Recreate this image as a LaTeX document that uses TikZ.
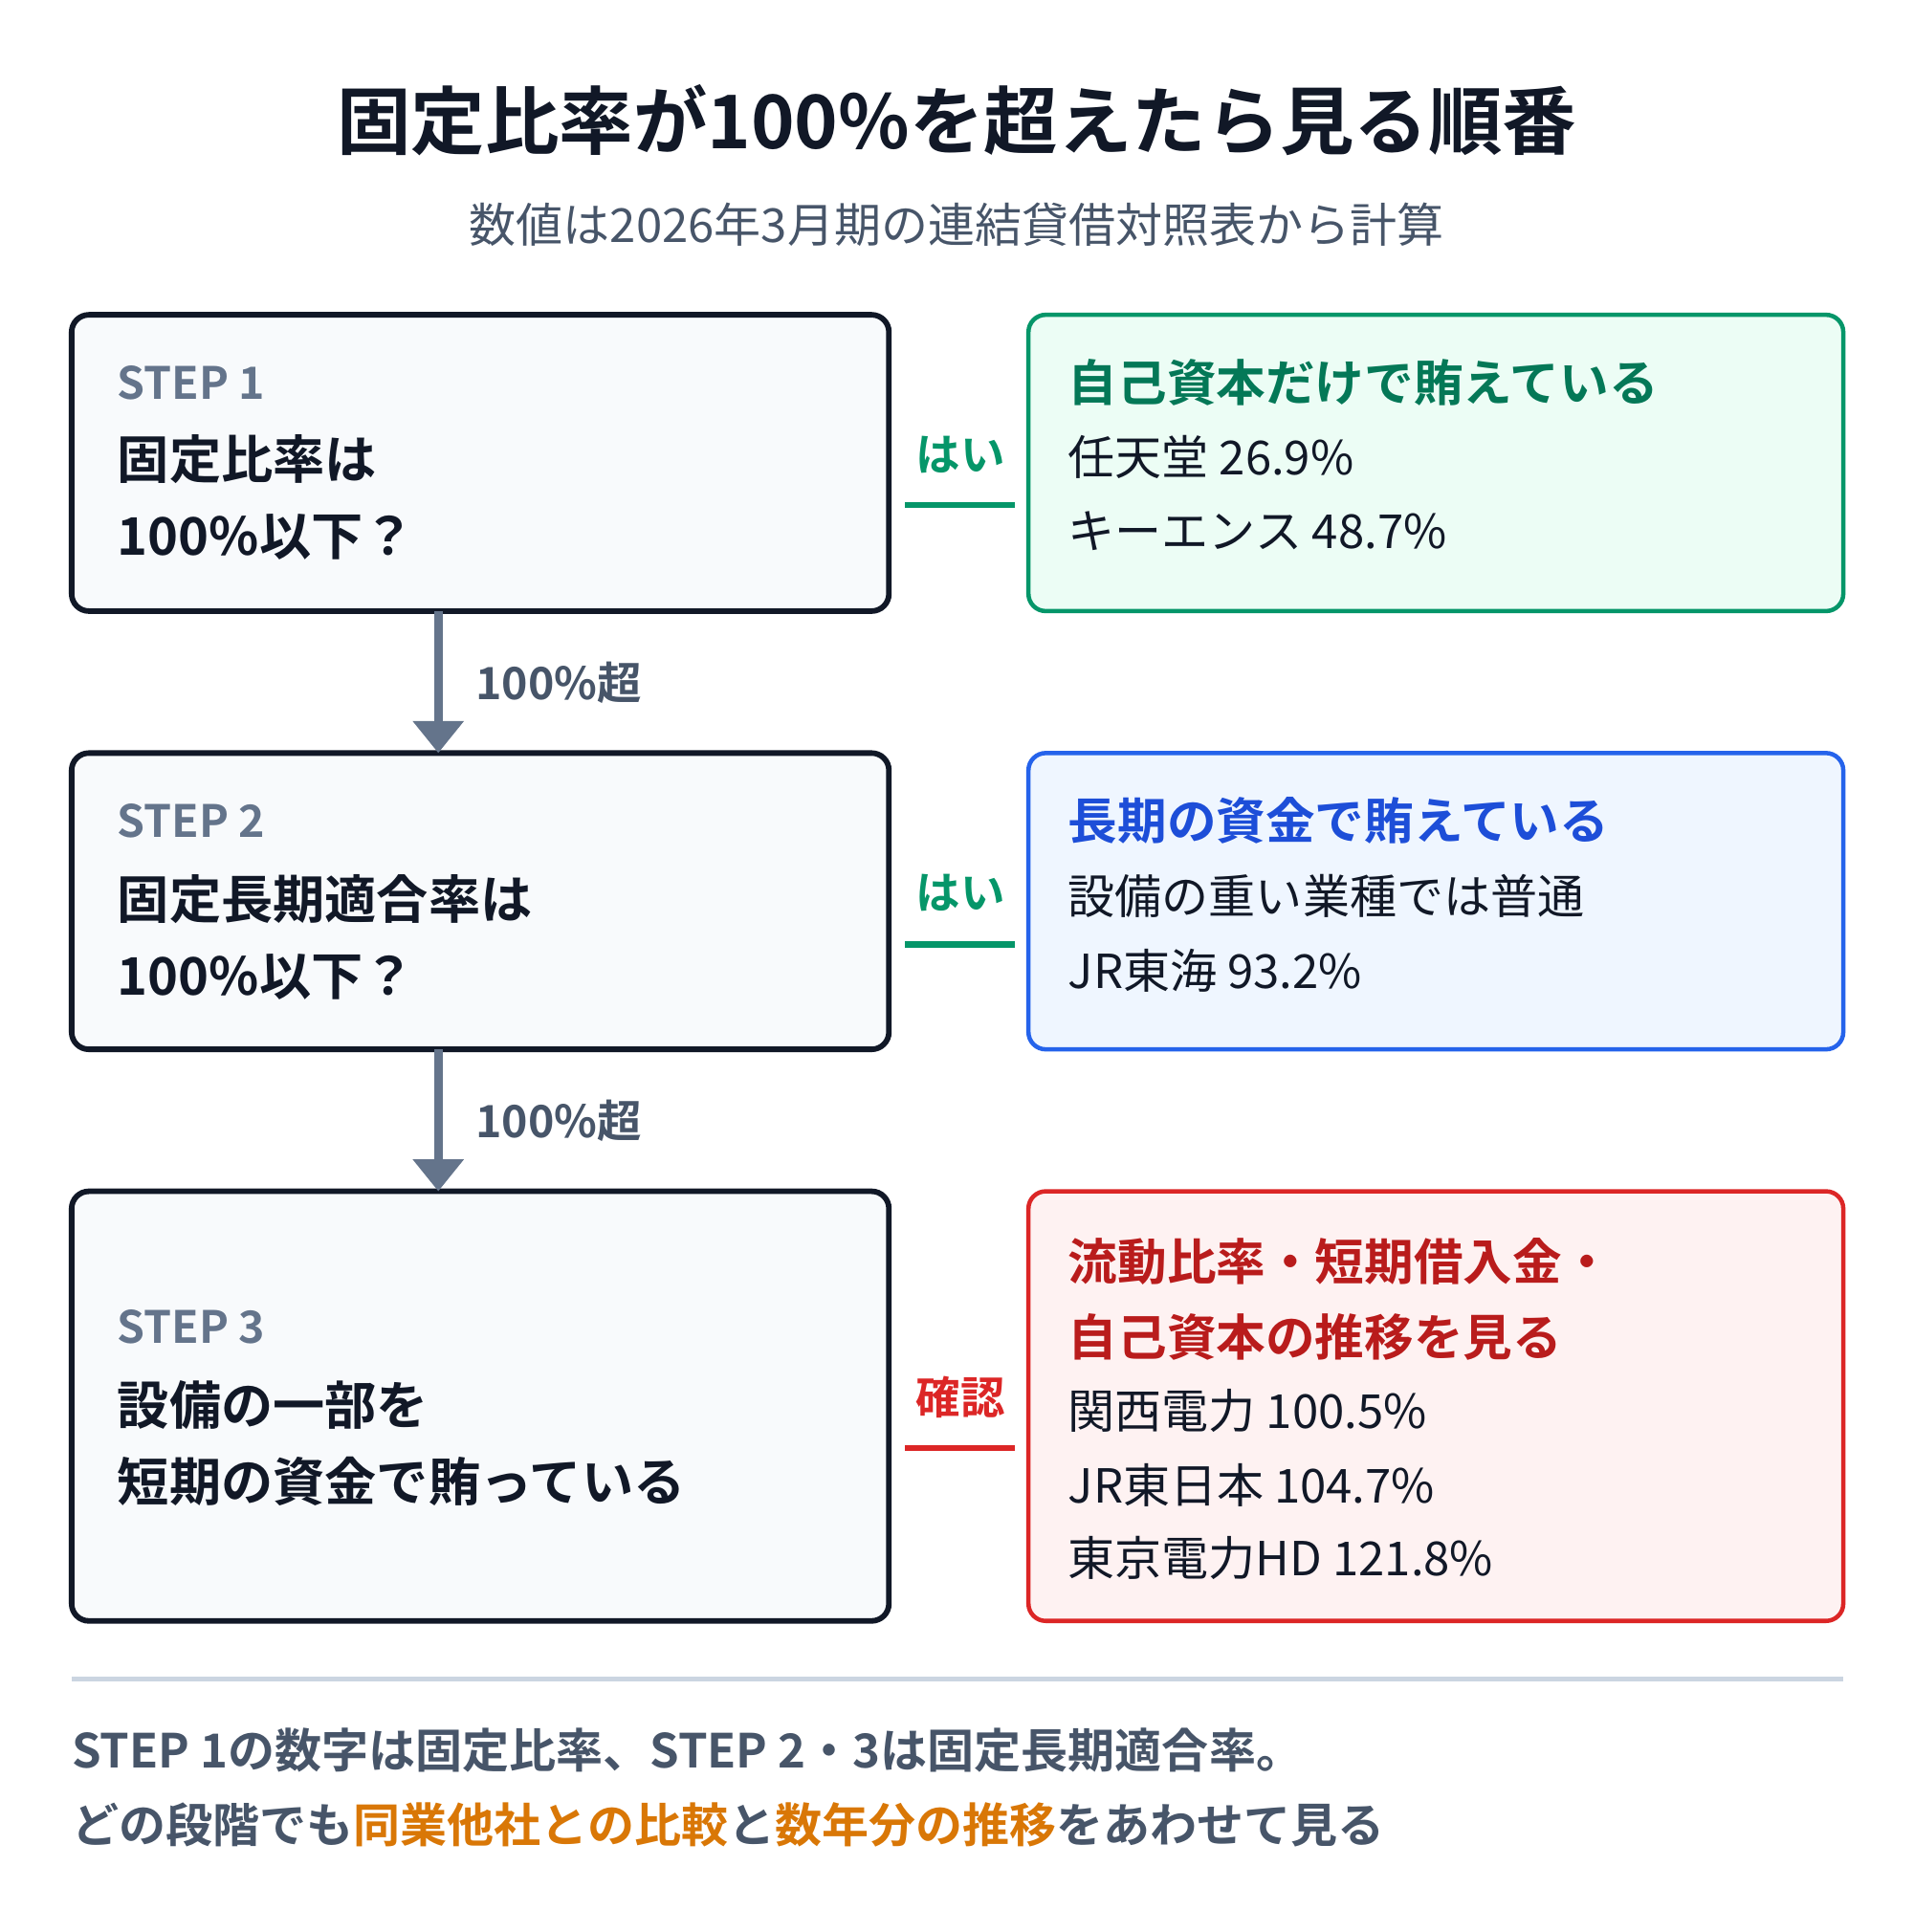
\documentclass[tikz,border=0pt]{standalone}
\usepackage{fontspec}
\setmainfont{Noto Sans CJK JP}[BoldFont={* Bold}]
\usetikzlibrary{arrows.meta}
\definecolor{ink}{HTML}{111827}
\definecolor{slate}{HTML}{64748B}
\definecolor{slated}{HTML}{475569}
\definecolor{gr}{HTML}{059669}
\definecolor{grt}{HTML}{047857}
\definecolor{grf}{HTML}{ECFDF5}
\definecolor{bl}{HTML}{2563EB}
\definecolor{blt}{HTML}{1D4ED8}
\definecolor{blf}{HTML}{EFF6FF}
\definecolor{rd}{HTML}{DC2626}
\definecolor{rdt}{HTML}{B91C1C}
\definecolor{rdf}{HTML}{FEF2F2}
\definecolor{orng}{HTML}{D97706}
\definecolor{boxf}{HTML}{F8FAFC}
\definecolor{sep}{HTML}{CBD5E1}
\newcommand{\fs}[1]{\fontsize{#1}{#1}\selectfont}
\begin{document}
\begin{tikzpicture}[x=1pt,y=-1pt,
 box/.style={draw=ink,line width=4.5pt,fill=boxf,rounded corners=14pt},
 rbox/.style={line width=3.5pt,rounded corners=14pt},
 t/.style={anchor=west,inner sep=0pt},
 steplab/.style={t,text=slate,font=\fs{36}\bfseries},
 q/.style={t,text=ink,font=\fs{42}\bfseries},
 rh/.style={t,font=\fs{40}\bfseries},
 rl/.style={t,text=ink,font=\fs{38}},
 yes/.style={inner sep=0pt,font=\fs{36}\bfseries},
 arr/.style={draw=slate,line width=7pt,-{Triangle[length=26pt,width=40pt]}},
 lbl/.style={t,text=slated,font=\fs{36}\bfseries}]
\useasboundingbox[fill=white] (0,0) rectangle (1550,1565);
\node[text=ink,font=\fs{60}\bfseries,inner sep=0pt] (title) at (775,97) {固定比率が100\%を超えたら見る順番};
\node[text=slated,font=\fs{38},inner sep=0pt] (sub) at (775,182) {数値は2026年3月期の連結貸借対照表から計算};
\path[box] (58,255) rectangle (720,495); \coordinate (b1t) at (355,495);
\path[box] (58,610) rectangle (720,850); \coordinate (b2b) at (355,610); \coordinate (b2t) at (355,850);
\path[box] (58,965) rectangle (720,1313); \coordinate (b3b) at (355,965);
\node[steplab] (s1) at (95,310) {STEP 1};
\node[q] (q1a) at (95,372) {固定比率は};
\node[q] (q1b) at (95,435) {100\%以下？};
\node[steplab] (s2) at (95,665) {STEP 2};
\node[q] (q2a) at (95,728) {固定長期適合率は};
\node[q] (q2b) at (95,791) {100\%以下？};
\node[steplab] (s3) at (95,1075) {STEP 3};
\node[q] (q3a) at (95,1138) {設備の一部を};
\node[q] (q3b) at (95,1200) {短期の資金で賄っている};
\draw[arr] (b1t) -- (b2b);
\draw[arr] (b2t) -- (b3b);
\node[lbl] (l1) at (385,553) {100\%超};
\node[lbl] (l2) at (385,908) {100\%超};
\path[rbox,draw=gr,fill=grf] (833,255) rectangle (1493,495);
\path[rbox,draw=bl,fill=blf] (833,610) rectangle (1493,850);
\path[rbox,draw=rd,fill=rdf] (833,965) rectangle (1493,1313);
\node[rh,text=grt] (g0) at (865,310) {自己資本だけで賄えている};
\node[rl] (g1) at (865,370) {任天堂 26.9\%};
\node[rl] (g2) at (865,430) {キーエンス 48.7\%};
\node[rh,text=blt] (c0) at (865,665) {長期の資金で賄えている};
\node[rl] (c1) at (865,726) {設備の重い業種では普通};
\node[rl] (c2) at (865,786) {JR東海 93.2\%};
\node[rh,text=rdt] (r0) at (865,1022) {流動比率・短期借入金・};
\node[rh,text=rdt] (r1) at (865,1083) {自己資本の推移を見る};
\node[rl] (r2) at (865,1143) {関西電力 100.5\%};
\node[rl] (r3) at (865,1203) {JR東日本 104.7\%};
\node[rl] (r4) at (865,1262) {東京電力HD 121.8\%};
\node[yes,text=gr] (y1) at (778,368) {はい};
\coordinate (y1a) at (733,409); \coordinate (y1b) at (822,409);
\draw[gr,line width=5pt] (y1a) -- (y1b);
\node[yes,text=gr] (y2) at (778,723) {はい};
\coordinate (y2a) at (733,765); \coordinate (y2b) at (822,765);
\draw[gr,line width=5pt] (y2a) -- (y2b);
\node[yes,text=rd] (y3) at (778,1132) {確認};
\coordinate (y3a) at (733,1173); \coordinate (y3b) at (822,1173);
\draw[rd,line width=5pt] (y3a) -- (y3b);
\coordinate (sa) at (58,1360); \coordinate (sb) at (1493,1360);
\draw[sep,line width=4pt] (sa) -- (sb);
\node[t,text=slated,font=\fs{38}\bfseries] (f1) at (58,1418) {STEP 1の数字は固定比率、STEP 2・3は固定長期適合率。};
\node[t,text=slated,font=\fs{38}\bfseries] (f2) at (58,1478) {どの段階でも\textcolor{orng}{同業他社との比較}と\textcolor{orng}{数年分の推移}をあわせて見る};
\end{tikzpicture}
\end{document}
